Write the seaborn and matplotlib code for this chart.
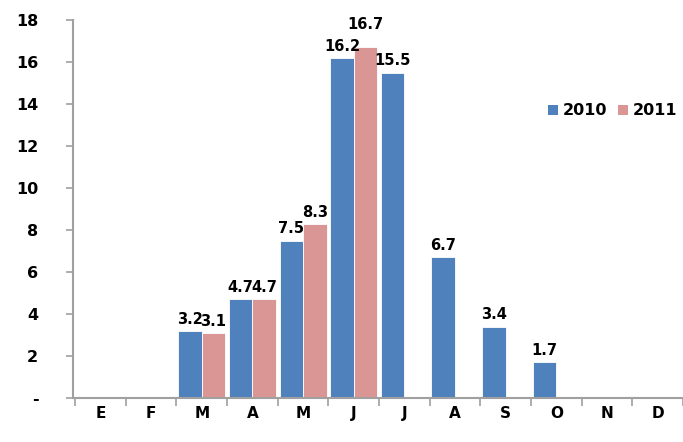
import numpy as np
import pandas as pd
import seaborn as sns
import matplotlib
import matplotlib.pyplot as plt
from matplotlib.patches import Patch

matplotlib.use('Agg')

months = ["E", "F", "M", "A", "M", "J", "J", "A", "S", "O", "N", "D"]
vals_2010 = [0, 0, 3.2, 4.7, 7.5, 16.2, 15.5, 6.7, 3.4, 1.7, 0, 0]
vals_2011 = [np.nan, np.nan, 3.1, 4.7, 8.3, 16.7, np.nan, np.nan, np.nan, np.nan, np.nan, np.nan]
years = ["2010", "2011"]
colors = ["#4F81BD", "#D99694"]

rows = []
for i in range(len(months)):
    rows.append({"pos": i, "year": "2010", "value": vals_2010[i]})
    rows.append({"pos": i, "year": "2011", "value": vals_2011[i]})
df = pd.DataFrame(rows)

sns.set_style("white")
plt.rcParams['font.family'] = ['DejaVu Sans']
plt.rcParams['font.weight'] = 'bold'
plt.rcParams['text.color'] = 'black'
plt.rcParams['xtick.color'] = 'black'
plt.rcParams['ytick.color'] = 'black'

fig = plt.figure(figsize=(6.83, 4.42), dpi=100)
ax = fig.add_axes([0.107, 0.0995, 0.893, 0.855])

sns.barplot(data=df, x="pos", y="value", hue="year", hue_order=years,
            palette=colors, saturation=1, width=0.93, ax=ax, legend=False,
            edgecolor="white", linewidth=0.6)

# value labels; the tallest 2011 bar label is lifted like in the original
for k, cont in enumerate(ax.containers):
    for bar in cont:
        h = bar.get_height()
        if np.isnan(h) or h == 0:
            continue
        pad = 11 if (k == 1 and h > 16) else 3
        ax.annotate(f"{h:.1f}", (bar.get_x() + bar.get_width() / 2, h),
                    xytext=(0, pad), textcoords="offset points",
                    ha="center", va="bottom", fontsize=10.5,
                    fontweight='bold', color='black', annotation_clip=False)

ax.set_ylim(0, 18)
ax.set_xlim(-0.54, 11.28)
ax.set_yticks(np.arange(0, 19, 2))
ax.set_yticklabels(["-"] + [str(v) for v in range(2, 19, 2)])
ax.set_xticks(range(12))
ax.set_xticklabels(months)
ax.set_xticks(np.arange(-0.5, 12, 1), minor=True)
ax.tick_params(axis='x', which='major', bottom=True, length=0, pad=6,
               labelsize=11, labelcolor='black')
ax.tick_params(axis='x', which='minor', bottom=True, length=6, width=1.2,
               color="#a0a0a0", direction='out')
ax.tick_params(axis='y', left=True, length=5, width=1.2, color="#a0a0a0",
               direction='out', labelsize=11.5, pad=20, labelcolor='black')
ax.set_xlabel("")
ax.set_ylabel("")

for s in ["top", "right"]:
    ax.spines[s].set_visible(False)
for s in ["left", "bottom"]:
    ax.spines[s].set_color("#a0a0a0")
    ax.spines[s].set_linewidth(1.5)

handles = [Patch(facecolor=c, edgecolor='none') for c in colors]
ax.legend(handles, years, loc='center left', bbox_to_anchor=(0.755, 0.76),
          ncol=2, frameon=False, handlelength=0.6, handleheight=0.6,
          handletextpad=0.3, columnspacing=0.7,
          prop={'weight': 'bold', 'size': 11.5})

fig.savefig("out.png", dpi=100)
